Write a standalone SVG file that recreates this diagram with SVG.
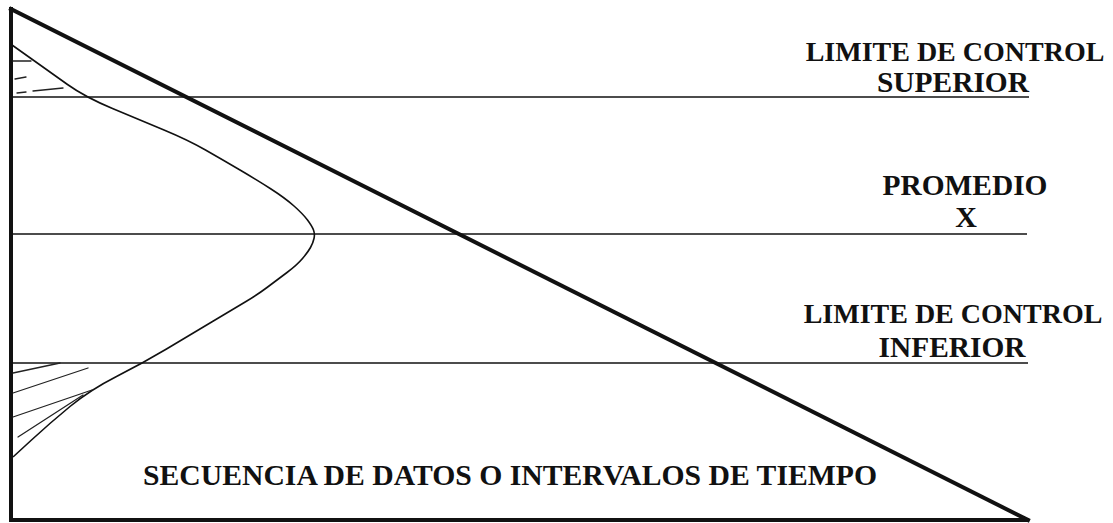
<svg xmlns="http://www.w3.org/2000/svg" width="1113" height="523" viewBox="0 0 1113 523">
<style>
.t{font-family:"Liberation Serif","Times New Roman",serif;font-weight:bold;font-size:30px;fill:#111;text-anchor:middle}
.t2{font-size:28px}
.thin{stroke:#111;stroke-width:1.6;fill:none}
.thick{stroke:#111;stroke-width:4;fill:none;stroke-linecap:square}
.h{stroke:#222;stroke-width:1.3;fill:none;stroke-linecap:round}
</style>
<rect width="1113" height="523" fill="#fff"/>
<g id="axes">
<line class="thick" x1="11" y1="9" x2="11" y2="520"/>
<line class="thick" x1="11" y1="520" x2="1027" y2="520"/>
</g>
<g id="limits">
<line class="thin" x1="12" y1="97" x2="1029" y2="97"/>
<line class="thin" x1="12" y1="234" x2="1027" y2="234"/>
<line class="thin" x1="12" y1="363" x2="1028" y2="363"/>
</g>
<g id="curve">
<path class="thin" d="M12,45 L31,58.5 Q50,72 67.5,84.5 Q85,97 112.5,108.5 Q140,120 164,130 Q188,140 205.5,150 Q223,160 240,170 Q257,180 271,189 Q285,198 294,206 Q303,214 307.5,220 Q312,226 313.5,230 Q315,234 314,238.5 Q313,243 310.5,247.5 Q308,252 302.5,258.5 Q297,265 287,272.5 Q277,280 267,287.5 Q257,295 246,301.5 Q235,308 212.5,321.5 Q190,335 166.5,349 Q143,363 116.5,376.5 Q90,390 70,406.5 Q50,423 31.5,440 L13,457"/>
</g>
<g id="hatch">
<line class="h" x1="13" y1="61" x2="31" y2="61"/>
<line class="h" x1="15" y1="79" x2="26" y2="77"/>
<line class="h" x1="17" y1="93" x2="26" y2="92"/>
<line class="h" x1="33" y1="91" x2="63" y2="88"/>
<line class="h" x1="13" y1="373" x2="60" y2="363"/>
<line class="h" x1="13" y1="393" x2="88" y2="368"/>
<line class="h" x1="13" y1="417" x2="92" y2="390"/>
<line class="h" x1="18" y1="437" x2="83" y2="395"/>
</g>
<g id="connectors">
<line class="thick" x1="11" y1="9" x2="1028" y2="520"/>
</g>
<g id="labels">
<text class="t t2" x="955" y="61">LIMITE DE CONTROL</text>
<text class="t" x="953" y="92" textLength="152" lengthAdjust="spacingAndGlyphs">SUPERIOR</text>
<text class="t" x="965" y="195" textLength="165" lengthAdjust="spacingAndGlyphs">PROMEDIO</text>
<text class="t" x="966" y="227">X</text>
<text class="t t2" x="953" y="323">LIMITE DE CONTROL</text>
<text class="t" x="952" y="357" textLength="147" lengthAdjust="spacingAndGlyphs">INFERIOR</text>
<text class="t" x="510" y="485" textLength="734" lengthAdjust="spacingAndGlyphs">SECUENCIA DE DATOS O INTERVALOS DE TIEMPO</text>
</g>
</svg>
